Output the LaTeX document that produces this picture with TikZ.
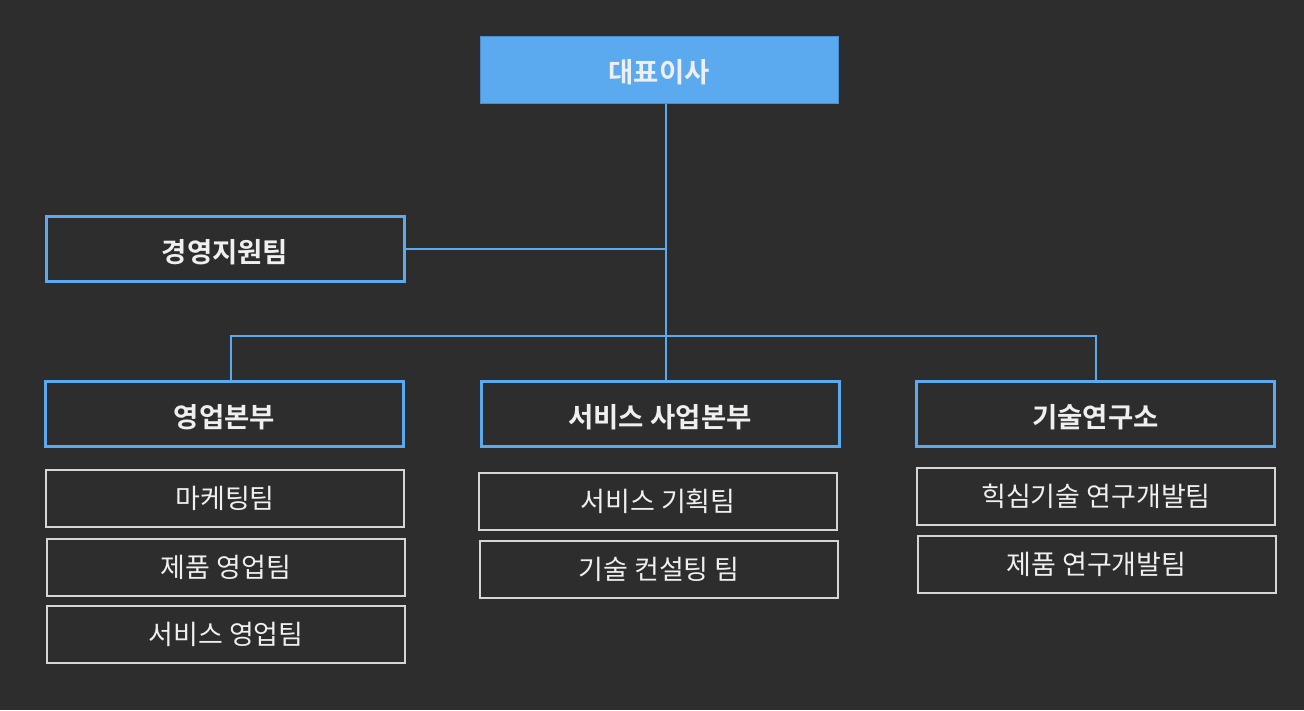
\documentclass[tikz,border=0pt]{standalone}
\usepackage{fontspec}
\newfontfamily\kr{Noto Sans CJK KR}
\newfontfamily\krb{Noto Sans CJK KR Bold}
\definecolor{bg}{HTML}{2D2D2D}
\definecolor{blue}{HTML}{5BA9EE}
\definecolor{blueedge}{HTML}{4A8ED0}
\definecolor{txt}{HTML}{EFEFEF}
\definecolor{subedge}{HTML}{D6D6D6}
\begin{document}
\begin{tikzpicture}[x=1pt,y=-1pt,
  ceobox/.style={rectangle,fill=blue,draw=blueedge,line width=1pt,minimum width=358pt,minimum height=67pt,inner sep=0pt,text height=28pt,text depth=2pt,text=txt,font=\krb\fontsize{27.5pt}{32pt}\selectfont},
  headbox/.style={rectangle,fill=bg,draw=blue,line width=3pt,minimum width=358pt,minimum height=65pt,inner sep=0pt,text height=28pt,text depth=2pt,text=txt,font=\krb\fontsize{27.5pt}{32pt}\selectfont},
  teambox/.style={rectangle,fill=bg,draw=subedge,line width=2pt,minimum width=358pt,minimum height=57pt,inner sep=0pt,text=txt,font=\kr\fontsize{27pt}{32pt}\selectfont},
  conn/.style={draw=blue,line width=2pt}]
\fill[bg] (0,0) rectangle (1304,710);
\useasboundingbox (0,0) rectangle (1304,710);
\coordinate (bus) at (666,336);
\coordinate (busL) at (231,336);
\coordinate (busR) at (1096,336);
\node[ceobox] (ceo) at (659,69.5) {대표이사};
\node[headbox] (mgmt) at (225,249) {경영지원팀};
\node[headbox] (sales) at (224.5,414) {영업본부};
\node[headbox] (svc) at (660,414) {서비스 사업본부};
\node[headbox] (lab) at (1095.5,414) {기술연구소};
\node[teambox] (mkt) at (225,498) {마케팅팀};
\node[teambox] (psales) at (226,567) {제품 영업팀};
\node[teambox] (ssales) at (226,634) {서비스 영업팀};
\node[teambox] (splan) at (658,501) {서비스 기획팀};
\node[teambox] (tcons) at (659,569.5) {기술 컨설팅 팀};
\node[teambox] (core) at (1096,496) {힉심기술 연구개발팀};
\node[teambox] (prd) at (1096.5,564) {제품 연구개발팀};
\draw[conn] (ceo.south -| bus) -- (svc.north -| bus);
\draw[conn] (mgmt.east) -- (mgmt.east -| bus);
\draw[conn] (sales.north -| busL) -- (busL) -- (busR) -- (lab.north -| busR);
\end{tikzpicture}
\end{document}
